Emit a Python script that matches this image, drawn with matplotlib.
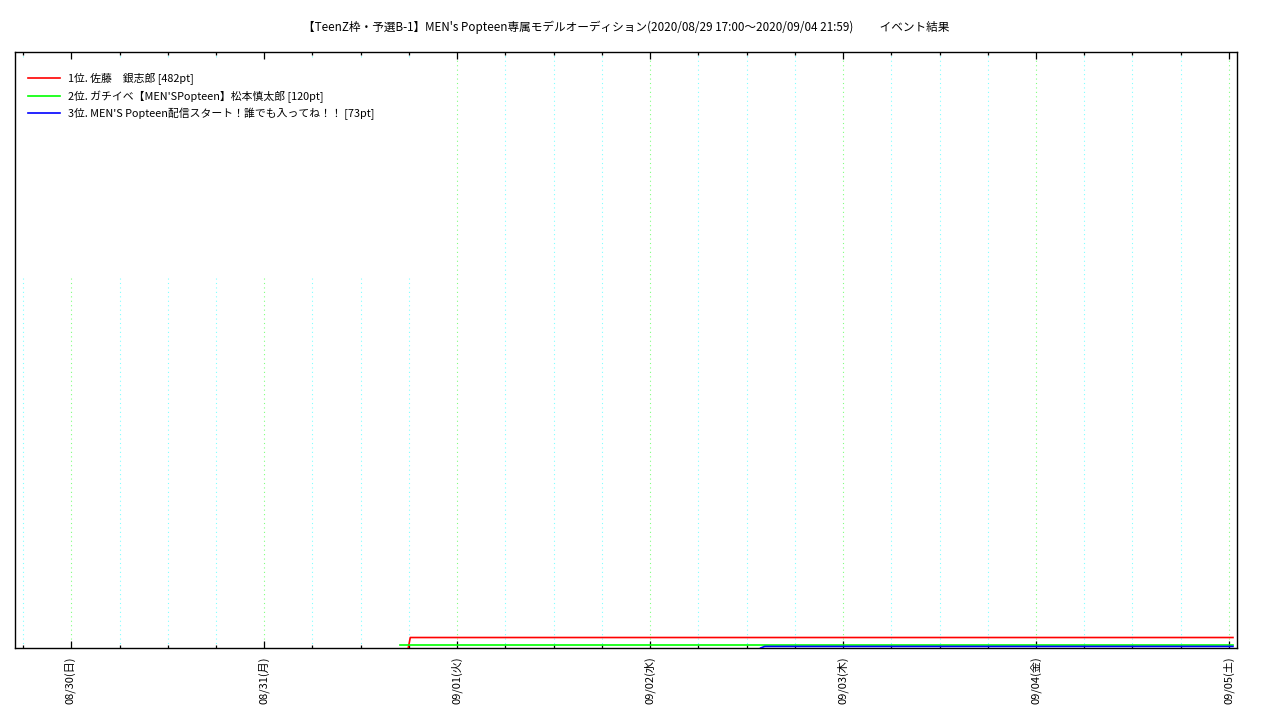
import matplotlib
matplotlib.use("Agg")
import matplotlib.pyplot as plt
import matplotlib.dates as mdates
from matplotlib.patches import Rectangle
import pandas as pd

plt.rcParams['font.family'] = ['Noto Sans CJK JP', 'DejaVu Sans']

title = "【TeenZ枠・予選B-1】MEN's Popteen専属モデルオーディション(2020/08/29 17:00～2020/09/04 21:59)          イベント結果"

labels = ["1位. 佐藤　銀志郎 [482pt]",
          "2位. ガチイベ【MEN'SPopteen】松本慎太郎 [120pt]",
          "3位. MEN'S Popteen配信スタート！誰でも入ってね！！ [73pt]"]
colors = ["#ff0000", "#00ff00", "#0000ff"]

red_t = ["2020-08-31 17:55", "2020-08-31 18:10", "2020-09-05 00:30"]
red_v = [0, 482, 482]
green_t = ["2020-08-31 16:55", "2020-09-05 00:30"]
green_v = [120, 120]
blue_t = ["2020-09-02 13:45", "2020-09-02 14:15", "2020-09-05 00:30"]
blue_v = [0, 73, 73]

day_ticks = ["2020-08-30", "2020-08-31", "2020-09-01", "2020-09-02",
             "2020-09-03", "2020-09-04", "2020-09-05"]
day_labels = ["08/30(日)", "08/31(月)", "09/01(火)", "09/02(水)",
              "09/03(木)", "09/04(金)", "09/05(土)"]

x_start = "2020-08-29 17:00"
x_end = "2020-09-05 01:00"
y_max = 27400

fig = plt.figure(figsize=(12.8, 7.2), dpi=100)
ax = fig.add_axes([15/1280, 72/720, 1222/1280, 596/720])

series = [(red_t, red_v), (green_t, green_v), (blue_t, blue_v)]
for (t, v), c, lab in zip(series, colors, labels):
    ax.plot(pd.to_datetime(t), v, color=c, lw=1.2, label=lab, zorder=3)

ax.set_xlim(pd.Timestamp(x_start), pd.Timestamp(x_end))
ax.set_ylim(0, y_max)
ax.set_yticks([])

ax.set_xticks(pd.to_datetime(day_ticks))
ax.set_xticklabels(day_labels, rotation=90, fontsize=8)
ax.xaxis.set_minor_locator(mdates.HourLocator(byhour=[0, 6, 12, 18]))
ax.tick_params(axis='x', which='major', direction='in', length=5, width=0.9,
               top=True, pad=6)
ax.tick_params(axis='x', which='minor', direction='in', length=2.5, width=0.9,
               top=True)
for s in ax.spines.values():
    s.set_linewidth(1.0)
    s.set_color('black')

ax.grid(True, which='major', axis='x', color='#80ff80', ls=(0, (1, 3)), lw=0.8, zorder=1)
ax.grid(True, which='minor', axis='x', color='#80ffff', ls=(0, (1, 3)), lw=0.8, zorder=1)

# white area behind the legend that hides gridlines
ax.add_patch(Rectangle((0.0, 0.621), 0.342, 0.366, transform=ax.transAxes,
                       facecolor='white', edgecolor='none', zorder=2))

leg = ax.legend(loc='upper left', bbox_to_anchor=(0.0025, 0.981), frameon=False,
                fontsize=7.8, handlelength=3.0, handletextpad=0.75,
                labelspacing=0.47, borderaxespad=0.0, borderpad=0.9)
leg.set_zorder(4)

fig.text(0.489, 0.9625, title, ha='center', va='center', fontsize=8.4)

fig.savefig("out.png", dpi=100)
